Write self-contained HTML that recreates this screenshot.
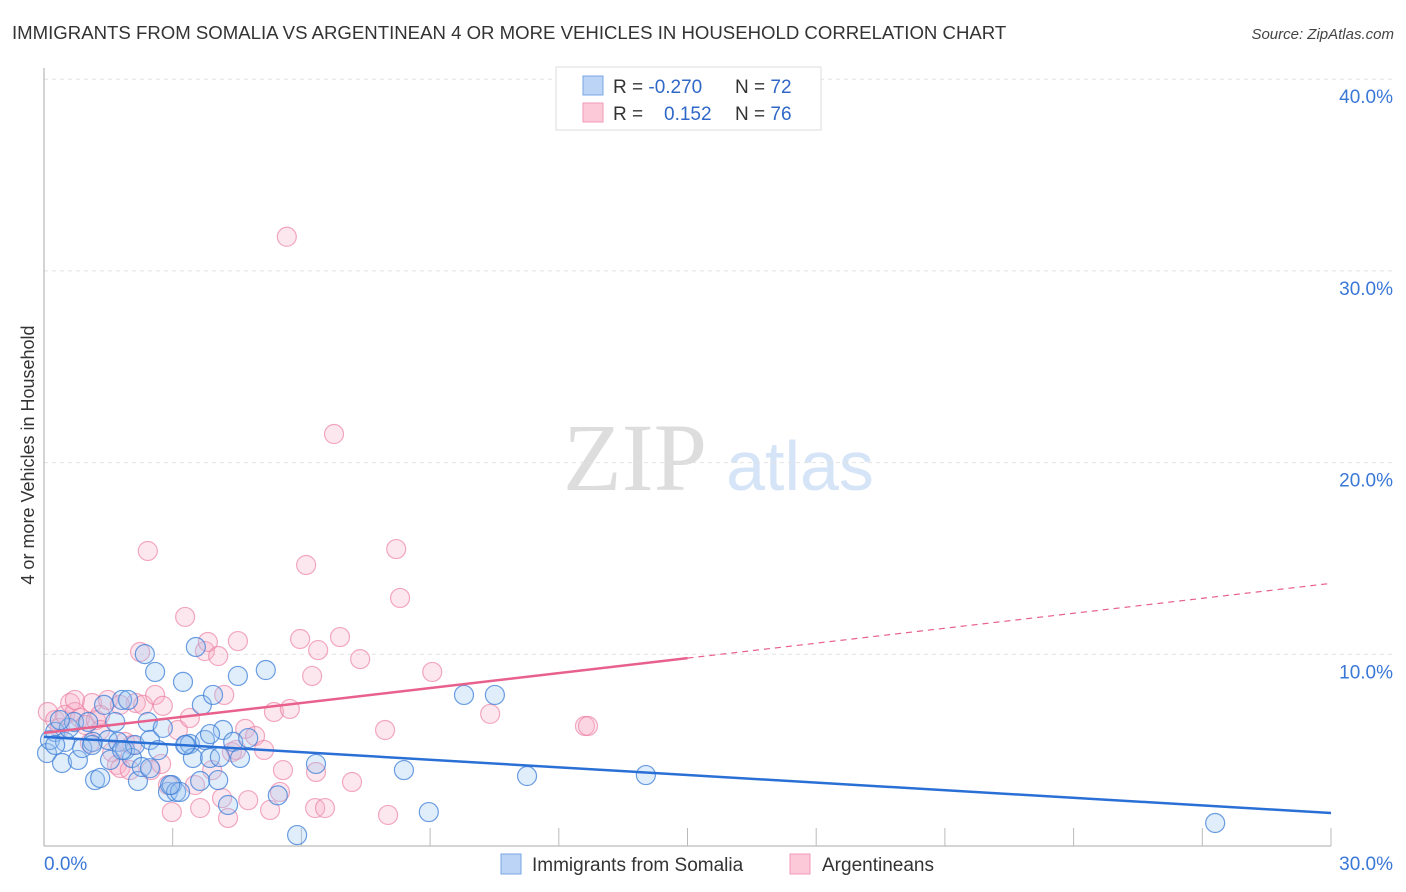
<!DOCTYPE html>
<html><head><meta charset="utf-8"><style>
body{margin:0;background:#fff;font-family:"Liberation Sans",sans-serif;}
svg{display:block}
</style></head><body>
<svg id="c" width="1406" height="892">
<text x="12" y="39" font-size="18.6" fill="#333">IMMIGRANTS FROM SOMALIA VS ARGENTINEAN 4 OR MORE VEHICLES IN HOUSEHOLD CORRELATION CHART</text>
<text x="1394" y="39" font-size="15" fill="#444" font-style="italic" text-anchor="end">Source: ZipAtlas.com</text>
<text x="0" y="0" transform="translate(34,455) rotate(-90)" font-size="18" fill="#333" text-anchor="middle">4 or more Vehicles in Household</text>
<g><text x="635" y="490" font-size="96" fill="#ddd" font-family="Liberation Serif,serif" text-anchor="middle">ZIP</text><text x="800" y="490" font-size="70" fill="#d5e4f7" text-anchor="middle">atlas</text></g>
<g id="grid"></g><g id="pts"></g><g id="lines"></g>
<g>
<rect x="556" y="67" width="265" height="63" fill="#fff" stroke="#ddd"/>
<rect x="583" y="76" width="20" height="19" fill="#bcd4f5" stroke="#7aa6e6"/>
<rect x="583" y="103" width="20" height="19" fill="#fbc9d8" stroke="#f09ab5"/>
<text x="613" y="93" font-size="19" fill="#333">R = <tspan fill="#3068c8">-0.270</tspan><tspan x="735">N = </tspan><tspan fill="#3068c8">72</tspan></text>
<text x="613" y="120" font-size="19" fill="#333">R = <tspan x="664" fill="#3068c8">0.152</tspan><tspan x="735">N = </tspan><tspan fill="#3068c8">76</tspan></text>
</g>
<g>
<rect x="501" y="854" width="20" height="20" fill="#bcd4f5" stroke="#7aa6e6"/>
<text x="532" y="871" font-size="19" fill="#333">Immigrants from Somalia</text>
<rect x="790" y="854" width="20" height="20" fill="#fbc9d8" stroke="#f09ab5"/>
<text x="822" y="871" font-size="19" fill="#333">Argentineans</text>
</g>
</svg>
<script>
const xTicks=[0,3,6,9,12,15,18,21,24,27,30];
const yTicks=[10,20,30,40];
const blueX=[0.07,0.14,0.26,0.42,0.49,0.58,0.7,0.79,0.89,1.03,1.14,1.19,1.31,1.4,1.49,1.54,1.66,1.73,1.82,1.89,1.96,2.05,2.12,2.19,2.28,2.35,2.42,2.47,2.59,2.66,2.77,2.89,2.98,3.08,3.17,3.24,3.31,3.4,3.47,3.54,3.64,3.68,3.75,3.87,3.94,4.06,4.1,4.17,4.29,4.41,4.52,4.57,4.76,5.17,5.45,5.9,6.34,8.39,8.97,9.79,10.51,11.26,14.03,27.3,1.82,0.37,1.12,2.47,2.94,3.87,3.29,0.26];
const blueY=[4.85,5.53,5.95,4.33,5.43,6.16,6.47,4.49,5.11,6.47,5.43,3.44,3.55,7.36,5.53,4.49,6.47,5.43,7.62,5.0,7.62,4.59,5.27,3.39,4.12,10.01,6.47,5.53,9.08,5.0,6.16,2.82,3.18,2.82,2.82,8.56,5.27,5.32,4.59,10.38,3.39,7.36,5.53,4.59,7.88,3.44,4.64,6.05,2.14,5.43,8.87,4.59,5.63,9.18,2.64,0.57,4.28,3.96,1.77,7.88,7.88,3.65,3.7,1.20,5.0,6.57,5.27,4.06,3.18,5.84,5.27,5.27];
const pinkX=[0.09,0.26,0.37,0.49,0.61,0.72,0.84,0.96,1.12,1.21,1.31,1.49,1.59,1.7,1.78,1.89,2.05,2.14,2.24,2.31,2.42,2.49,2.59,2.73,2.77,2.89,2.98,3.12,3.29,3.4,3.52,3.64,3.75,3.82,3.92,4.06,4.15,4.2,4.29,4.38,4.48,4.52,4.69,4.76,4.92,5.13,5.27,5.36,5.5,5.57,5.66,5.73,5.97,6.11,6.25,6.34,6.39,6.32,6.55,6.76,6.9,7.18,7.37,7.95,8.02,8.21,8.3,9.05,10.4,12.61,12.68,1.77,1.31,2.0,0.72,1.07];
const pinkY=[6.99,6.57,6.16,6.84,7.46,6.99,6.68,6.31,7.46,6.57,6.84,7.62,4.9,4.23,4.07,5.43,5.27,7.46,10.12,7.36,15.39,3.96,7.88,4.28,7.31,3.18,1.77,6.05,11.95,6.68,3.18,1.98,10.17,10.64,3.96,9.91,2.5,7.88,1.46,4.9,5.01,10.69,6.11,2.39,5.74,5.01,1.88,6.99,2.82,3.96,31.78,7.15,10.8,14.66,8.87,3.86,10.22,1.98,1.98,21.49,10.9,3.34,9.75,6.05,1.62,15.49,12.94,9.08,6.89,6.26,6.26,7.36,6.05,3.96,7.62,5.37];
const blueFit=[5.69,1.72];
const pinkFit=[5.9,13.7];
const X0=44,X1=1331,Y0=846,PY=19.17;
const sx=v=>X0+(X1-X0)*v/30, sy=v=>Y0-PY*v;
const NS='http://www.w3.org/2000/svg';
function mk(tag,attrs,parent){const e=document.createElementNS(NS,tag);for(const k in attrs)e.setAttribute(k,attrs[k]);parent.appendChild(e);return e;}
const g=document.getElementById('grid');
for(const t of yTicks){
 const l=mk('line',{x1:X0,x2:1393,y1:sy(t),y2:sy(t),stroke:'#e2e2e2','stroke-dasharray':'4,4'},g);
 
 
 const tx=mk('text',{x:1393,y:sy(t)+24,'font-size':19,fill:'#3a78d8','text-anchor':'end'},g);
 tx.textContent=t.toFixed(1)+'%';
 
 
}
const ax=mk('line',{x1:X0,x2:X0,y1:68,y2:Y0,stroke:'#aaa'},g);


const bx=mk('line',{x1:X0,x2:X1,y1:Y0,y2:Y0,stroke:'#aaa'},g);


for(const t of xTicks){
 if(t===0)continue;
 const l=mk('line',{x1:sx(t),x2:sx(t),y1:Y0,y2:Y0-18,stroke:'#bbb'},g);
 
 
}
const xl0=mk('text',{x:44,y:870,'font-size':19,fill:'#3a78d8'},g);xl0.textContent=xTicks[0].toFixed(1)+'%';


const xl1=mk('text',{x:1393,y:870,'font-size':19,fill:'#3a78d8','text-anchor':'end'},g);xl1.textContent=xTicks[xTicks.length-1].toFixed(1)+'%';


const p=document.getElementById('pts');
for(let i=0;i<pinkX.length;i++){const c=mk('circle',{cx:sx(pinkX[i]),cy:sy(pinkY[i]),r:9.5,fill:'rgba(248,175,198,0.3)',stroke:'rgba(235,125,160,0.65)','stroke-width':1.2},p);
 
 }
for(let i=0;i<blueX.length;i++){const c=mk('circle',{cx:sx(blueX[i]),cy:sy(blueY[i]),r:9.5,fill:'rgba(160,198,242,0.32)',stroke:'rgba(60,125,215,0.75)','stroke-width':1.2},p);
 
 }
const L=document.getElementById('lines');
const b=mk('line',{x1:sx(0),y1:sy(blueFit[0]),x2:sx(30),y2:sy(blueFit[1]),stroke:'#2a6fd6','stroke-width':2.5},L);


const pm=pinkFit[0]+(pinkFit[1]-pinkFit[0])/2;
const ps=mk('line',{x1:sx(0),y1:sy(pinkFit[0]),x2:sx(15),y2:sy(pm),stroke:'#e8608c','stroke-width':2.5},L);


const pd=mk('line',{x1:sx(15),y1:sy(pm),x2:sx(30),y2:sy(pinkFit[1]),stroke:'#e8608c','stroke-width':1.2,'stroke-dasharray':'6,5'},L);


</script>
</body></html>
